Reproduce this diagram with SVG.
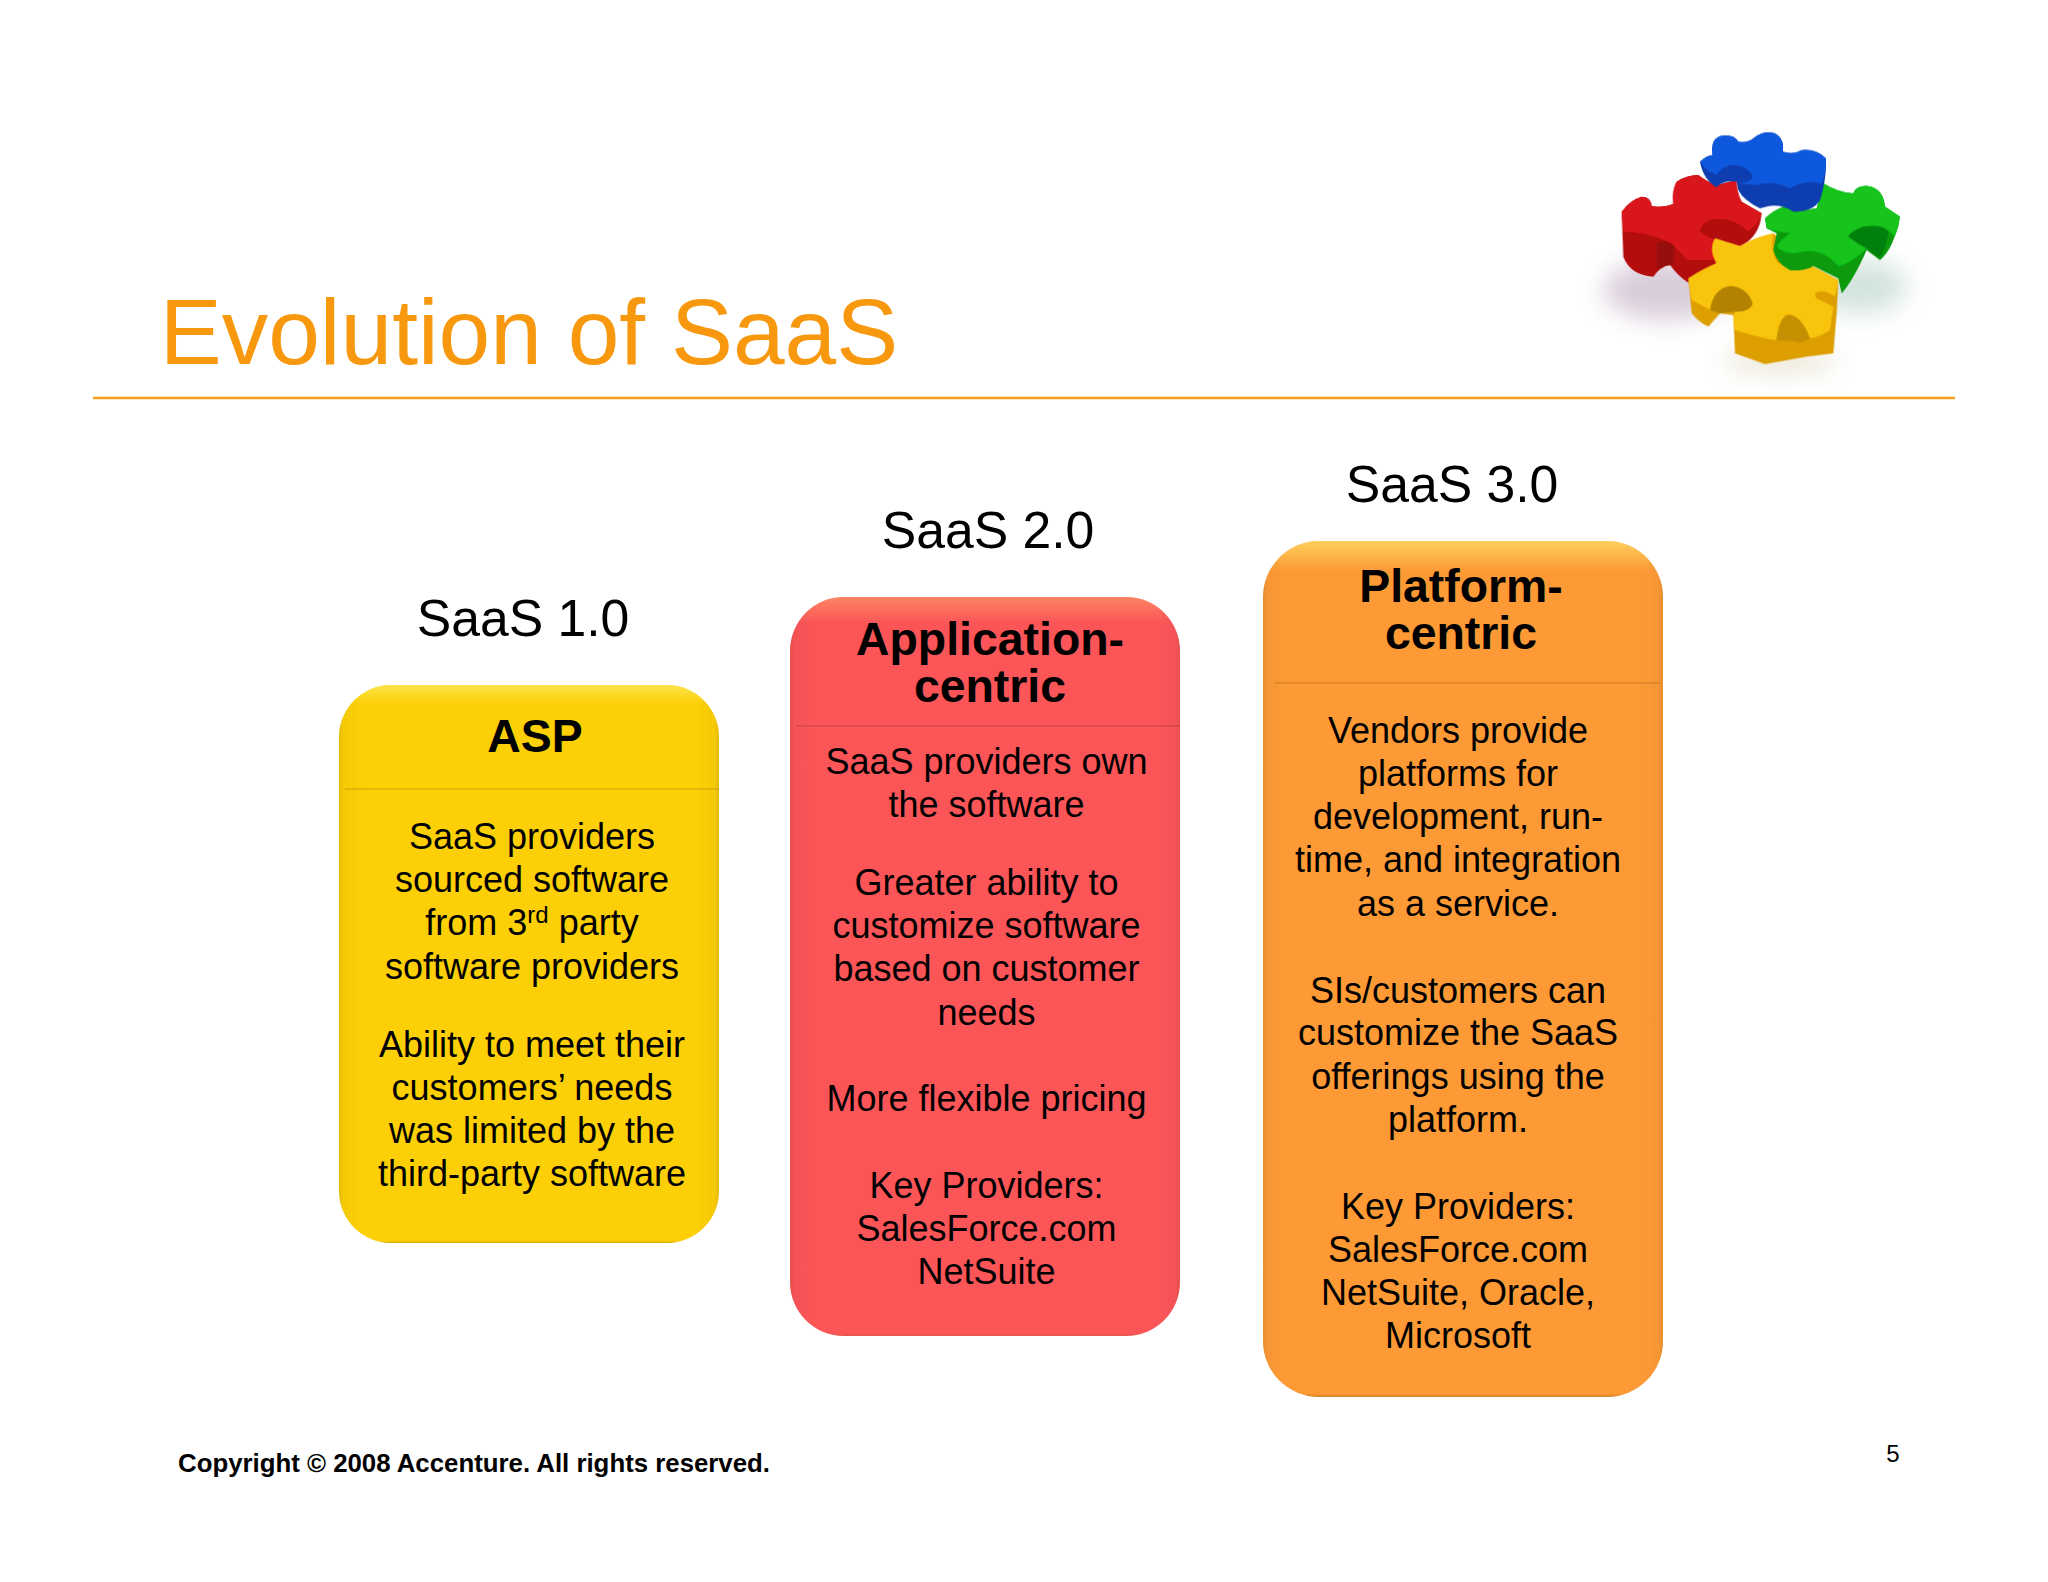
<svg xmlns="http://www.w3.org/2000/svg" width="2048" height="1582" viewBox="0 0 2048 1582">
<style>
text{font-family:"Liberation Sans",Arial,sans-serif;fill:#000;text-anchor:middle}
.b{font-size:36px}.h{font-size:46.4px;font-weight:bold}.s{font-size:51.7px}
.top{fill:url(#hl)}.side{fill:url(#ed)}.rule{stroke:#000;stroke-opacity:.2;stroke-width:1.2}
</style>
<defs>
<linearGradient id="hl" x1="0" y1="0" x2="0" y2="1"><stop offset="0" stop-color="#fff27a" stop-opacity=".6"/><stop offset=".035" stop-color="#fff27a" stop-opacity="0"/><stop offset=".996" stop-color="#806000" stop-opacity="0"/><stop offset="1" stop-color="#806000" stop-opacity=".35"/></linearGradient>
<linearGradient id="ed" x1="0" y1="0" x2="1" y2="0"><stop offset="0" stop-color="#705000" stop-opacity=".15"/><stop offset=".01" stop-color="#000" stop-opacity=".03"/><stop offset=".06" stop-color="#000" stop-opacity="0"/><stop offset=".94" stop-color="#000" stop-opacity="0"/><stop offset=".99" stop-color="#000" stop-opacity=".03"/><stop offset="1" stop-color="#705000" stop-opacity=".15"/></linearGradient>
<filter id="blur" x="-40%" y="-60%" width="180%" height="220%"><feGaussianBlur stdDeviation="36"/></filter>
<filter id="soft"><feGaussianBlur stdDeviation="2"/></filter>
</defs>
<rect width="2048" height="1582" fill="#fff"/>
<g id="title"><text x="529" y="364" style="font-size:92.9px;fill:#f7980f">Evolution of SaaS</text></g>
<line id="title-rule" x1="93" y1="398" x2="1955" y2="398" stroke="#f2a01e" stroke-width="2.5"/>

<g id="puzzle" transform="translate(1560,100) scale(.3333)">
<ellipse cx="320" cy="570" rx="190" ry="90" fill="#a080a0" opacity=".4" filter="url(#blur)"/>
<ellipse cx="900" cy="560" rx="140" ry="80" fill="#80b0a0" opacity=".35" filter="url(#blur)"/>
<ellipse cx="660" cy="780" rx="170" ry="40" fill="#c0b080" opacity=".3" filter="url(#blur)"/>
<g filter="url(#soft)">
<g id="pz-red">
<path fill="#b30d0f" d="M185 335Q210 300 245 290Q272 290 275 318Q305 325 340 312Q335 270 350 245Q380 225 415 225Q440 245 470 255L530 240Q530 280 545 305L605 340Q600 410 540 440L470 420L470 490L385 548Q355 530 330 495Q300 500 280 530Q210 525 190 470Z"/>
<path fill="#d9151a" d="M185 335Q210 300 245 290Q272 290 275 318Q305 325 340 312Q335 270 350 245Q380 225 415 225Q440 245 470 255L530 240Q530 280 545 305L605 340Q600 370 565 395Q510 345 450 360Q420 375 420 395Q450 415 470 420L465 480L380 480Q350 440 300 415Q250 395 190 395Z"/>
<path fill="#8f0a0c" opacity=".75" d="M290 430Q320 410 345 440L340 495Q310 495 290 510Z"/>
</g>
<g id="pz-yellow">
<path fill="#dd9f00" d="M385 535Q430 505 470 490Q445 450 465 415L540 438Q590 410 640 400L760 500L835 540L830 640L820 760L740 770L615 792L525 760L520 645L480 640L445 680Q420 670 395 640Z"/>
<path fill="#f9c40c" d="M385 535Q430 505 470 490Q445 450 465 415L540 438Q590 410 640 400Q630 450 650 485Q690 515 760 500L835 540Q830 570 825 590Q790 565 765 580Q760 595 790 605L820 620L810 690Q780 710 750 715Q720 640 680 645Q655 660 650 720Q625 720 525 690Q515 660 525 635Q570 635 578 610Q560 560 510 558Q460 565 450 630Q425 615 395 600Z"/>
<path fill="#a87b00" opacity=".8" d="M450 630Q460 565 510 558Q560 560 578 610Q570 635 525 635L480 640Z"/>
<path fill="#c08c00" opacity=".85" d="M650 720Q655 660 680 645Q720 640 750 715L715 730L715 725Z"/>
</g>
<g id="pz-green">
<path fill="#089a10" d="M615 355Q640 330 680 315Q720 335 770 325L790 250Q840 280 880 280Q890 255 925 258Q970 265 975 320L1020 350Q1000 450 960 480L920 450Q880 540 845 580L835 535L760 498Q730 515 690 510Q650 490 640 450L650 400L620 385Z"/>
<path fill="#12c41a" d="M615 355Q640 330 680 315Q720 335 770 325L790 250Q840 280 880 280Q890 255 925 258Q970 265 975 320L1020 350Q1018 380 1005 410Q970 370 910 380Q870 395 865 410Q890 430 920 445Q890 475 860 490L835 500Q790 445 730 455Q680 470 650 440Q660 420 690 400Q650 395 620 385Z"/>
<path fill="#067a0c" opacity=".8" d="M865 410Q870 395 910 380Q970 370 985 395Q980 440 960 475L920 445Q890 430 865 410Z"/>
</g>
<g id="pz-blue">
<path fill="#0b3eae" d="M420 185Q440 165 458 165Q450 120 480 108Q520 100 535 125Q560 130 580 115Q610 90 645 100Q675 115 668 155Q700 165 725 150Q770 145 798 175Q800 240 780 300Q760 335 700 335Q660 310 620 320L600 325Q550 300 535 270L530 245Q490 240 470 262Q430 240 420 185Z"/>
<path fill="#1058dc" d="M420 185Q440 165 458 165Q450 120 480 108Q520 100 535 125Q560 130 580 115Q610 90 645 100Q675 115 668 155Q700 165 725 150Q770 145 798 175Q800 220 785 250Q730 240 690 265Q640 240 590 255L535 250Q580 245 578 225Q550 190 510 195Q480 205 470 225Q440 215 420 185Z"/>
</g>
</g>
</g>

<g id="col1">
<text class="s" x="523" y="636">SaaS 1.0</text>
<rect x="339" y="685" width="380" height="558" rx="52" fill="#fccf06"/>
<rect x="339" y="685" width="380" height="558" rx="52" class="top"/>
<rect x="339" y="685" width="380" height="558" rx="52" class="side"/>
<line class="rule" x1="345" y1="789" x2="719" y2="789"/>
<text class="h" x="535" y="752">ASP</text>
<text class="b" x="532" y="849">SaaS providers</text>
<text class="b" x="532" y="892">sourced software</text>
<text class="b" x="532" y="935">from 3<tspan dy="-12" font-size="24">rd</tspan><tspan dy="12"> party</tspan></text>
<text class="b" x="532" y="979">software providers</text>
<text class="b" x="532" y="1057">Ability to meet their</text>
<text class="b" x="532" y="1100">customers’ needs</text>
<text class="b" x="532" y="1143">was limited by the</text>
<text class="b" x="532" y="1186">third-party software</text>
</g>

<g id="col2">
<text class="s" x="988" y="548">SaaS 2.0</text>
<rect x="790" y="597" width="390" height="739" rx="54" fill="#fb5558"/>
<rect x="790" y="597" width="390" height="739" rx="54" class="top" opacity=".5"/>
<rect x="790" y="597" width="390" height="739" rx="54" class="side"/>
<line class="rule" x1="796" y1="726" x2="1180" y2="726"/>
<text class="h" x="990" y="655">Application-<tspan x="990" dy="47">centric</tspan></text>
<text class="b" x="986.500" y="774">SaaS providers own</text>
<text class="b" x="986.500" y="817">the software</text>
<text class="b" x="986.500" y="895">Greater ability to</text>
<text class="b" x="986.500" y="938">customize software</text>
<text class="b" x="986.500" y="981">based on customer</text>
<text class="b" x="986.500" y="1025">needs</text>
<text class="b" x="986.500" y="1111">More flexible pricing</text>
<text class="b" x="986.500" y="1198">Key Providers:</text>
<text class="b" x="986.500" y="1241">SalesForce.com</text>
<text class="b" x="986.500" y="1284">NetSuite</text>
</g>

<g id="col3">
<text class="s" x="1452" y="502">SaaS 3.0</text>
<rect x="1263" y="541" width="400" height="856" rx="56" fill="#fd9a35"/>
<rect x="1263" y="541" width="400" height="856" rx="56" class="top"/>
<rect x="1263" y="541" width="400" height="856" rx="56" class="side"/>
<line class="rule" x1="1275" y1="683" x2="1660" y2="683"/>
<text class="h" x="1461" y="602">Platform-<tspan x="1461" dy="47">centric</tspan></text>
<text class="b" x="1458" y="743">Vendors provide</text>
<text class="b" x="1458" y="786">platforms for</text>
<text class="b" x="1458" y="829">development, run-</text>
<text class="b" x="1458" y="872">time, and integration</text>
<text class="b" x="1458" y="916">as a service.</text>
<text class="b" x="1458" y="1003">SIs/customers can</text>
<text class="b" x="1458" y="1045">customize the SaaS</text>
<text class="b" x="1458" y="1089">offerings using the</text>
<text class="b" x="1458" y="1132">platform.</text>
<text class="b" x="1458" y="1219">Key Providers:</text>
<text class="b" x="1458" y="1262">SalesForce.com</text>
<text class="b" x="1458" y="1305">NetSuite, Oracle,</text>
<text class="b" x="1458" y="1348">Microsoft</text>
</g>

<g id="footer">
<text x="474" y="1472" style="font-size:25.8px;font-weight:bold">Copyright © 2008 Accenture. All rights reserved.</text>
<text x="1893" y="1462" style="font-size:24px">5</text>
</g>
</svg>
